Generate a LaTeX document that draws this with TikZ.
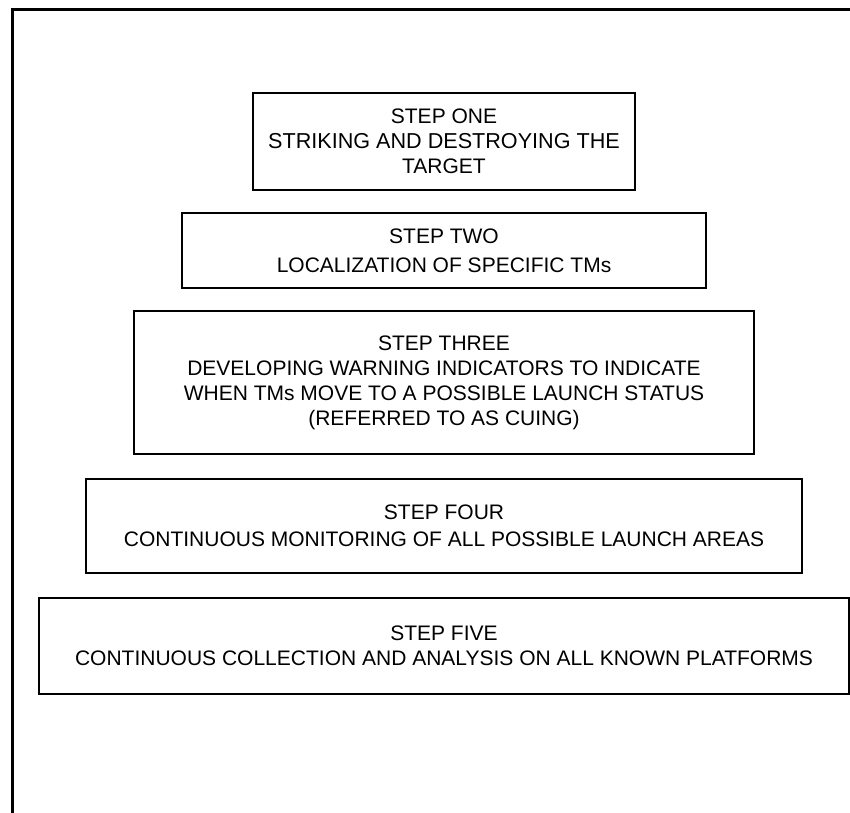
\documentclass[tikz,border=0pt]{standalone}
\usepackage{fontspec}
\setmainfont{Liberation Sans}
\begin{document}
\begin{tikzpicture}[x=1pt,y=-1pt,
  stepbox/.style={draw, line width=2.2pt, inner sep=0pt, align=center,
    font=\fontsize{21}{25}\selectfont},
  frameline/.style={line width=3pt}]
\useasboundingbox (0,0) rectangle (850,812);
\coordinate (fbl) at (12,814);
\coordinate (ftl) at (12,9);
\coordinate (ftr) at (852,9);
\draw[frameline] (fbl) -- (ftl) -- (ftr);
\node[stepbox, minimum width=382pt, minimum height=97pt] (s1) at (444,141.5)
  {STEP ONE\\\fontsize{21.6}{25}\selectfont STRIKING AND DESTROYING THE\\TARGET};
\node[stepbox, minimum width=524pt, minimum height=75pt] (s2) at (444,250.5)
  {STEP TWO\\[4pt]LOCALIZATION OF SPECIFIC TMs};
\node[stepbox, minimum width=620pt, minimum height=143pt] (s3) at (444,382.5)
  {STEP THREE\\DEVELOPING WARNING INDICATORS TO INDICATE\\WHEN TMs MOVE TO A POSSIBLE LAUNCH STATUS\\(REFERRED TO AS CUING)};
\node[stepbox, minimum width=716pt, minimum height=94pt] (s4) at (444,526)
  {STEP FOUR\\[2pt]CONTINUOUS MONITORING OF ALL POSSIBLE LAUNCH AREAS};
\node[stepbox, minimum width=810pt, minimum height=96pt] (s5) at (444,646)
  {STEP FIVE\\CONTINUOUS COLLECTION AND ANALYSIS ON ALL KNOWN PLATFORMS};
\end{tikzpicture}
\end{document}
